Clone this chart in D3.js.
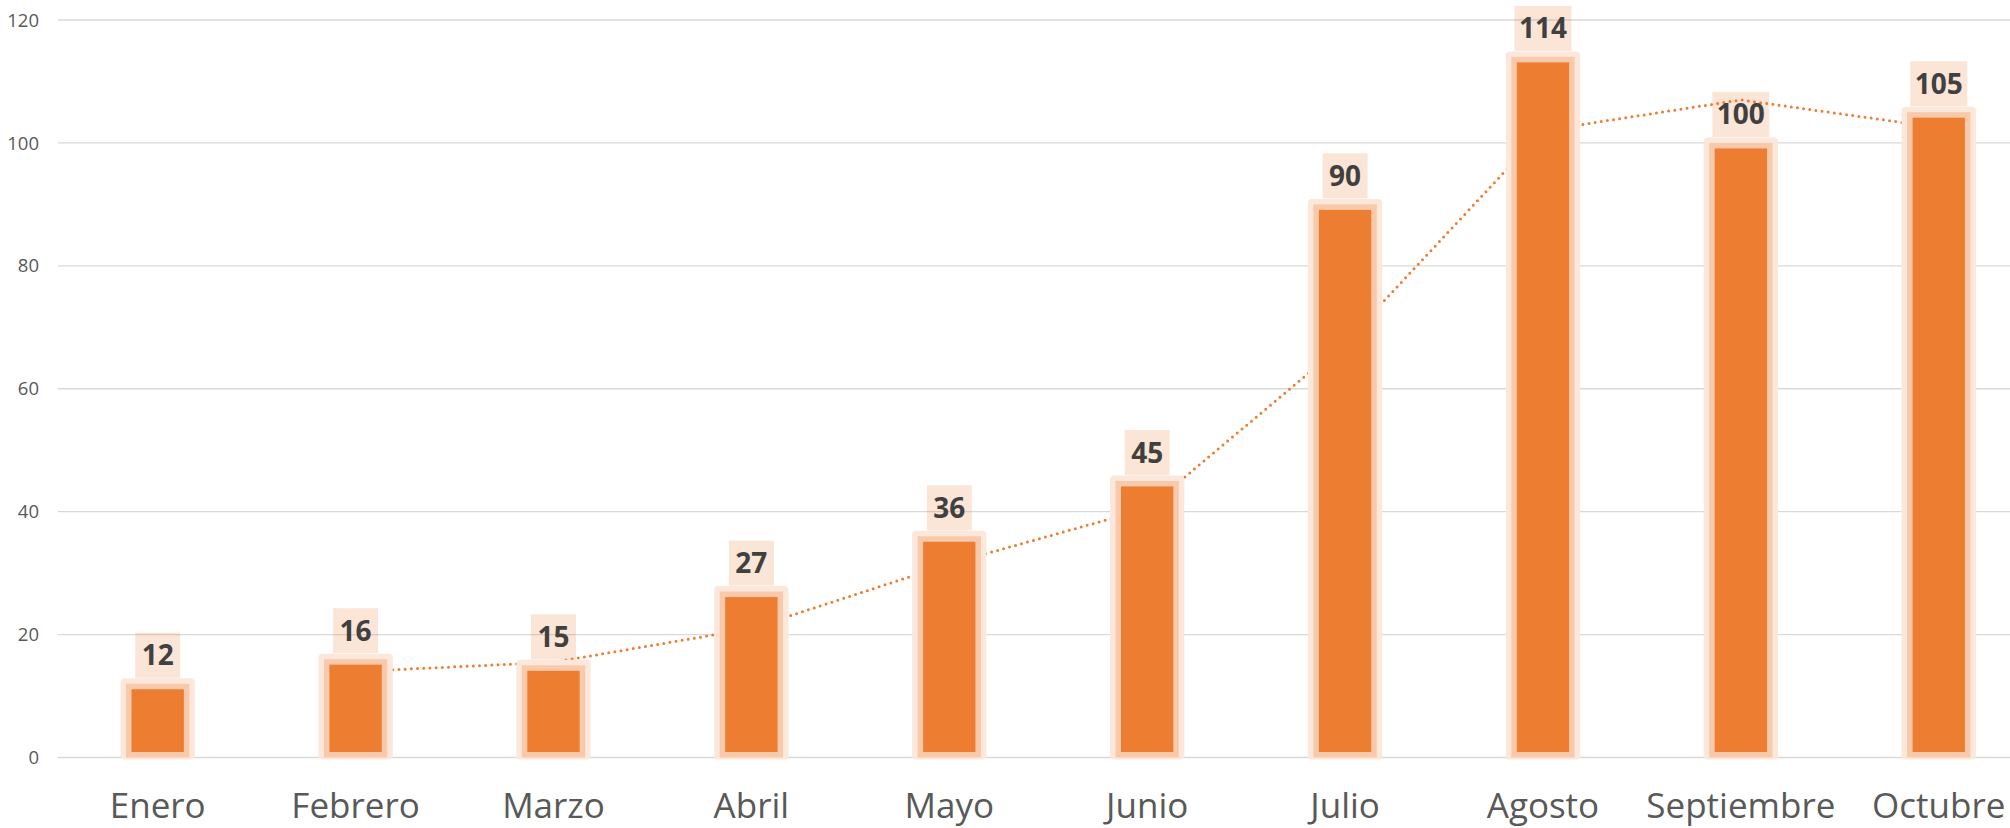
<!DOCTYPE html>
<html>
<head>
<meta charset="utf-8">
<script src="https://cdn.jsdelivr.net/npm/d3@7"></script>
<style>
  html, body { margin: 0; padding: 0; background: #ffffff; }
  svg { display: block; }
</style>
</head>
<body>
<script>
// ---- data ----
const months = ["Enero", "Febrero", "Marzo", "Abril", "Mayo", "Junio", "Julio", "Agosto", "Septiembre", "Octubre"];
const values = [12, 16, 15, 27, 36, 45, 90, 114, 100, 105];
// 2-period moving average trend line (no value for Enero)
const trend = [null, 14, 15.5, 21, 31.5, 40.5, 67.5, 102, 107, 102.5];
const yTicks = [0, 20, 40, 60, 80, 100, 120];

// ---- layout ----
const W = 2010, H = 828;
const svg = d3.select("body").append("svg").attr("width", W).attr("height", H);

const x = d3.scaleBand().domain(months).range([58.75, 2037.7]).paddingInner(0.68).paddingOuter(0.34);
const y = d3.scaleLinear().domain([0, 120]).range([757.5, 20]);

const ORANGE = "#ED7D31";

// gridlines
svg.append("g").selectAll("line").data(yTicks).join("line")
  .attr("x1", 58).attr("x2", W)
  .attr("y1", d => y(d)).attr("y2", d => y(d))
  .attr("stroke", "#D9D9D9").attr("stroke-width", 1.4);

// y-axis labels
svg.append("g").selectAll("text").data(yTicks).join("text")
  .attr("x", 39).attr("y", d => y(d)).attr("dy", "0.36em")
  .attr("text-anchor", "end")
  .attr("font-family", "'Open Sans', sans-serif").attr("font-size", 18.5)
  .attr("fill", "#595959")
  .text(d => d);

// x-axis labels
svg.append("g").selectAll("text").data(months).join("text")
  .attr("x", d => x(d) + x.bandwidth() / 2).attr("y", 818)
  .attr("text-anchor", "middle")
  .attr("font-family", "'Open Sans', sans-serif").attr("font-size", 35)
  .attr("fill", "#595959")
  .text(d => d);

// trend line (dotted), behind bars
const pts = months.map((m, i) => ({ m, v: trend[i] }));
const line = d3.line()
  .defined(d => d.v != null)
  .x(d => x(d.m) + x.bandwidth() / 2)
  .y(d => y(d.v));
svg.append("path").datum(pts)
  .attr("d", line)
  .attr("fill", "none")
  .attr("stroke", ORANGE).attr("stroke-width", 3)
  .attr("stroke-linecap", "round")
  .attr("stroke-dasharray", "0 6.2");

// bars
const data = months.map((m, i) => ({ m, v: values[i] }));
const bars = svg.append("g").selectAll("g").data(data).join("g");
const G = 5.5; // band thickness
bars.append("rect") // outer glow
  .attr("x", d => x(d.m) - G).attr("y", d => y(d.v) - G)
  .attr("width", x.bandwidth() + 2 * G)
  .attr("height", d => y(0) - y(d.v) + G + 2)
  .attr("rx", 4)
  .attr("fill", "#FCE8DB");
bars.append("rect") // light border band
  .attr("x", d => x(d.m)).attr("y", d => y(d.v))
  .attr("width", x.bandwidth())
  .attr("height", d => y(0) - y(d.v))
  .attr("fill", "#F8C9AA");
bars.append("rect") // main fill
  .attr("x", d => x(d.m) + G).attr("y", d => y(d.v) + G)
  .attr("width", x.bandwidth() - 2 * G)
  .attr("height", d => Math.max(0, y(0) - y(d.v) - 2 * G))
  .attr("fill", ORANGE);

// data labels
const labels = svg.append("g").selectAll("g").data(data).join("g");
labels.append("rect")
  .attr("x", d => x(d.m) + x.bandwidth() / 2 - (21 + 12 * String(d.v).length) / 2)
  .attr("y", d => y(d.v) - 6 - 45)
  .attr("width", d => 21 + 12 * String(d.v).length)
  .attr("height", 45)
  .attr("fill", "rgba(237,125,49,0.2)");
labels.append("text")
  .attr("x", d => x(d.m) + x.bandwidth() / 2)
  .attr("y", d => y(d.v) - 6 - 22.5)
  .attr("dy", "0.36em")
  .attr("text-anchor", "middle")
  .attr("font-family", "'Open Sans', sans-serif").attr("font-weight", 700)
  .attr("font-size", 28)
  .attr("fill", "#404040")
  .text(d => d.v);
</script>
</body>
</html>
